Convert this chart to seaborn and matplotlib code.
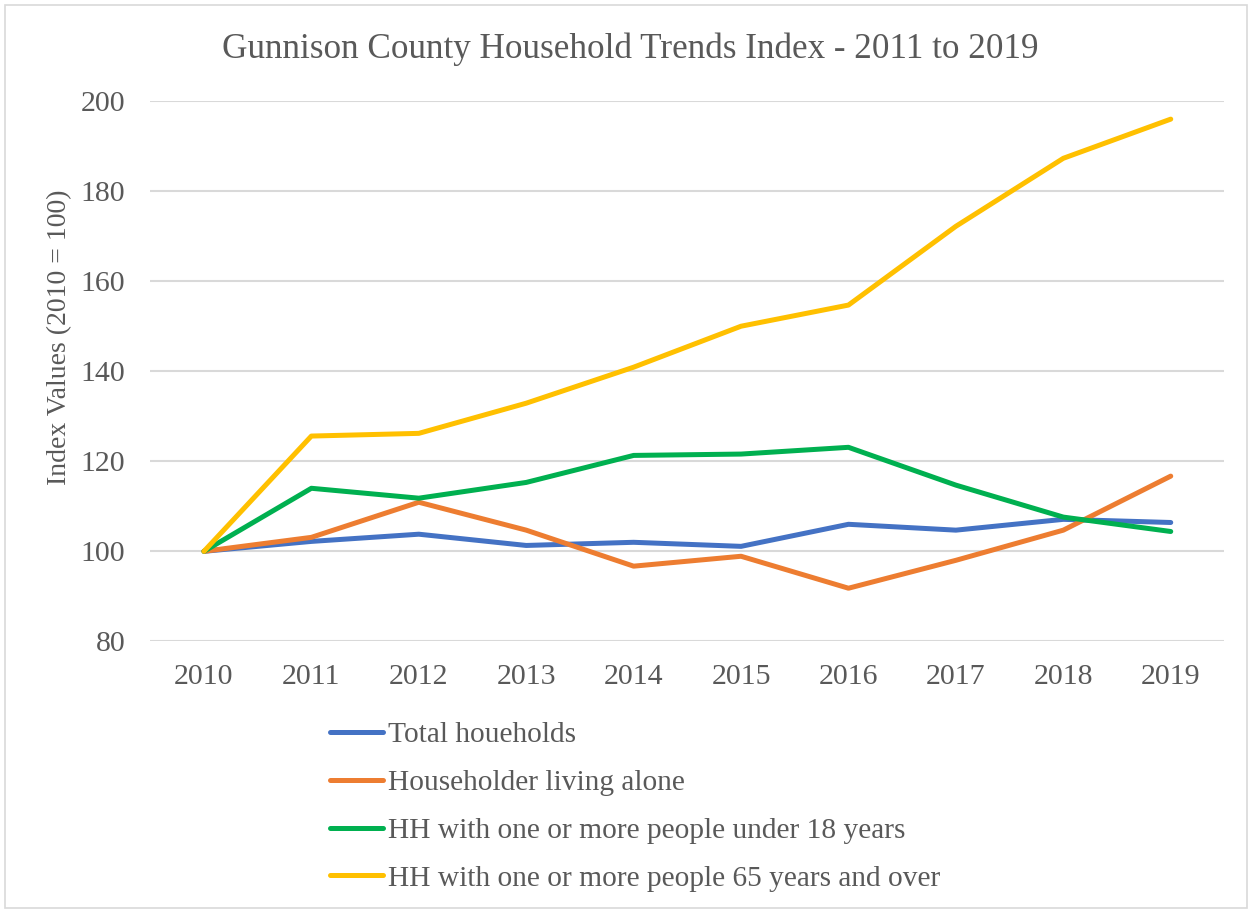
import pandas as pd
import matplotlib.pyplot as plt
import seaborn as sns

years = [2010, 2011, 2012, 2013, 2014, 2015, 2016, 2017, 2018, 2019]
total = [100, 102.2, 103.8, 101.3, 102.0, 101.1, 106.0, 104.7, 107.1, 106.4]
alone = [100, 103.1, 110.9, 104.7, 96.7, 98.9, 91.8, 98.0, 104.7, 116.7]
under18 = [100, 114.0, 111.8, 115.3, 121.3, 121.6, 123.1, 114.7, 107.6, 104.4]
over65 = [100, 125.6, 126.2, 132.9, 140.9, 150.0, 154.7, 172.2, 187.3, 196.0]

series_names = ['Total houeholds', 'Householder living alone',
                'HH with one or more people under 18 years',
                'HH with one or more people 65 years and over']
colors = ['#4472C4', '#ED7D31', '#00B050', '#FFC000']

df = pd.DataFrame({'Year': years, series_names[0]: total, series_names[1]: alone,
                   series_names[2]: under18, series_names[3]: over65})
long_df = df.melt(id_vars='Year', var_name='Series', value_name='Index')

sns.set_style('white')
plt.rcParams['font.family'] = ['Liberation Serif', 'DejaVu Serif']
text_col = '#595959'

fig = plt.figure(figsize=(12.52, 9.11), dpi=100)
ax = fig.add_axes([0.12, 0.296, 0.858, 0.593])

sns.lineplot(data=long_df, x='Year', y='Index', hue='Series', hue_order=series_names,
             palette=colors, linewidth=3.6, ax=ax, legend=False,
             solid_capstyle='round', solid_joinstyle='round')

ax.set_xlim(2009.5, 2019.5)
ax.set_ylim(80, 200)
ax.set_yticks(range(80, 201, 20))
ax.set_xticks(years)
ax.yaxis.grid(True, color='#D9D9D9', linewidth=1.5)
ax.set_axisbelow(True)
for s in ax.spines.values():
    s.set_visible(False)
ax.tick_params(axis='both', labelsize=21.5, colors=text_col, length=0)
ax.tick_params(axis='x', pad=16)
ax.tick_params(axis='y', pad=18)
ax.set_xlabel('')
ax.set_ylabel('Index Values (2010 = 100)', fontsize=20, color=text_col)
ax.yaxis.set_label_coords(-0.0726, 0.562)

# title centred on the whole figure
fig.text(0.5032, 1 - 49 / 911, 'Gunnison County Household Trends Index - 2011 to 2019',
         fontsize=25.3, color=text_col, ha='center', va='center')

handles = [plt.Line2D([], [], color=c, linewidth=3.6) for c in colors]
fig.legend(handles, series_names, loc='upper left', bbox_to_anchor=(0.2516, 0.224),
           frameon=False, fontsize=21.2, labelcolor=text_col, handlelength=1.8,
           handletextpad=0.17, labelspacing=0.72, borderpad=0)

fig.patches.append(plt.Rectangle((0.004, 0.003), 0.992, 0.992, transform=fig.transFigure,
                                 fill=False, edgecolor='#D9D9D9', linewidth=1.2))

fig.savefig('out.png', dpi=100)
